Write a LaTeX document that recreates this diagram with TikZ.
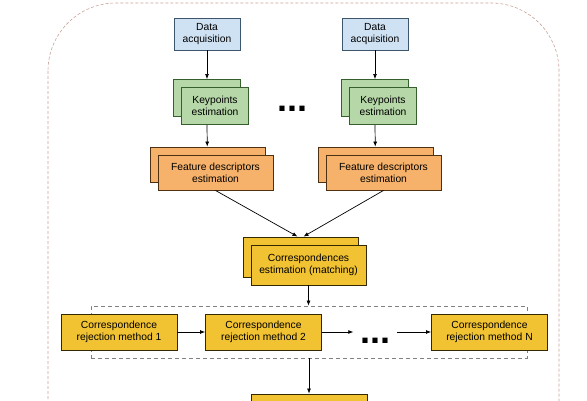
\documentclass[tikz,border=0pt]{standalone}
\usepackage{fontspec}
\setmainfont{Liberation Sans}
\usepackage{tikz}
\usetikzlibrary{arrows.meta,positioning}
\definecolor{acqblue}{HTML}{CFE2F3}
\definecolor{acqline}{HTML}{3E566B}
\definecolor{kpgreen}{HTML}{B6D7A8}
\definecolor{kpline}{HTML}{35602D}
\definecolor{fdorange}{HTML}{F6B26B}
\definecolor{fdline}{HTML}{4E3012}
\definecolor{corrgold}{HTML}{F1C232}
\definecolor{corrline}{HTML}{332800}
\definecolor{outerline}{HTML}{C8A29A}

\begin{document}
\begin{tikzpicture}[
  x=1pt,y=1pt,
  box/.style={draw,line width=.9pt,align=center,inner sep=2pt,
    font=\fontsize{10.3}{12}\selectfont},
  acq/.style={box,fill=acqblue,draw=acqline,minimum width=66pt,minimum height=32pt},
  kp/.style={box,fill=kpgreen,draw=kpline,minimum width=67pt,minimum height=37pt},
  fd/.style={box,fill=fdorange,draw=fdline,minimum width=115pt,minimum height=35pt},
  corr/.style={box,fill=corrgold,draw=corrline,minimum width=115pt,minimum height=40pt},
  rej/.style={box,fill=corrgold,draw=corrline,minimum width=116pt,minimum height=36pt},
  dots/.style={inner sep=0pt,font=\fontsize{36}{36}\selectfont\bfseries},
  group/.style={draw=gray,dash pattern=on 4pt off 3pt,line width=.8pt,minimum width=436pt,minimum height=52pt},
  flow/.style={-{Latex[length=5pt,width=4pt]},line width=.7pt}
]
\useasboundingbox (0,0) rectangle (587,400);
\clip (0,0) rectangle (587,400);
% outer frame
\draw[outerline,dash pattern=on 3pt off 2pt,line width=.6pt,rounded corners=68pt]
  (48,397) rectangle (559,-120);
% two input columns
\node[acq] (acq1) at (207,366) {Data\\acquisition};
\node[acq] (acq2) at (375,366) {Data\\acquisition};
\node[kp] (kpb1) at (207,302) {};
\node[kp] (kp1) at ([xshift=8pt,yshift=-8pt]kpb1.center) {Keypoints\\estimation};
\node[kp] (kpb2) at (375,302) {};
\node[kp] (kp2) at ([xshift=8pt,yshift=-8pt]kpb2.center) {Keypoints\\estimation};
\node[dots,anchor=base] (kpdots) at (292.5,289) {...};
\node[fd] (fdb1) at (207.5,235.5) {};
\node[fd] (fd1) at ([xshift=8pt,yshift=-8pt]fdb1.center) {Feature descriptors\\estimation};
\node[fd] (fdb2) at (375.5,235.5) {};
\node[fd] (fd2) at ([xshift=8pt,yshift=-8pt]fdb2.center) {Feature descriptors\\estimation};
% matching
\node[corr] (corrb) at (300.5,143) {};
\node[corr] (corr) at ([xshift=8pt,yshift=-8pt]corrb.center) {Correspondences\\estimation (matching)};
% rejection chain
\node[group] (rejgroup) at (309,68) {};
\node[rej] (rej1) at (119,68) {Correspondence\\rejection method 1};
\node[rej] (rej2) at (263.5,68) {Correspondence\\rejection method 2};
\node[dots,anchor=base] (rejdots) at (375.5,57) {...};
\node[rej] (rejN) at (489.5,68) {Correspondence\\rejection method N};
\node[rej] (final) at (309,-12) {};
\draw[flow] (acq1)--(kpb1);
\draw[flow] (acq2)--(kpb2);
\draw[flow] (kpb1 |- kp1.south)--(fdb1);
\draw[flow] (kpb2 |- kp2.south)--(fdb2);
\draw[flow] (fd1.south)--([xshift=-3pt]corrb.north);
\draw[flow] (fd2.south)--([xshift=3pt]corrb.north);
\draw[flow] (corr.south)--(corr.south |- rejgroup.north);
\draw[flow] (rej1)--(rej2);
\draw[flow,shorten >=7pt] (rej2)--(rejdots.west |- rej2);
\draw[flow,shorten <=6.5pt] (rejdots.east |- rejN)--(rejN);
\draw[flow] (rejgroup.south)--(final);
\end{tikzpicture}
\end{document}
